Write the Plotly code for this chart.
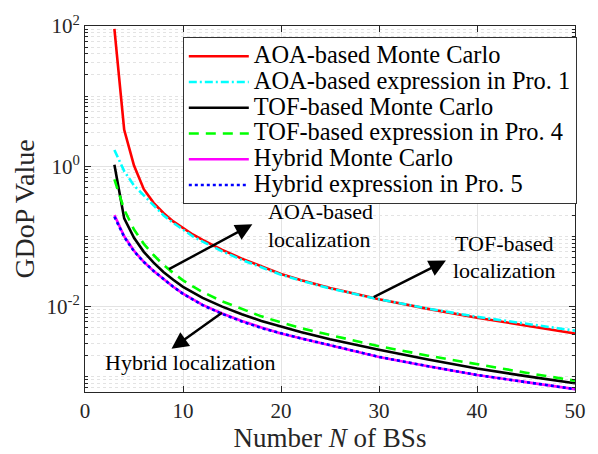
import numpy as np
import plotly.graph_objects as go

# Number of base stations
N = [3, 4, 5, 6, 7, 8, 9, 10, 11, 12, 14, 16, 18, 20, 22, 25, 30, 35, 40, 45, 50]

# GDoP values for each localization scheme
aoa_mc = [91, 3.3, 1.02, 0.47, 0.30, 0.215, 0.163, 0.130, 0.106, 0.089, 0.064,
          0.048, 0.037, 0.029, 0.0238, 0.0183, 0.0126, 0.0092, 0.0069, 0.0053, 0.0041]
aoa_expr = [1.7, 0.85, 0.53, 0.38, 0.27, 0.20, 0.155, 0.123, 0.100, 0.084, 0.061,
            0.046, 0.036, 0.0283, 0.0233, 0.0180, 0.0126, 0.0093, 0.0071, 0.0056, 0.0045]
tof_mc = [1.05, 0.18, 0.095, 0.060, 0.042, 0.031, 0.024, 0.019, 0.0158, 0.0132, 0.0099,
          0.0077, 0.0062, 0.0051, 0.0043, 0.0034, 0.0024, 0.00175, 0.0013, 0.00101, 0.0008]
tof_expr = [0.65, 0.24, 0.125, 0.078, 0.054, 0.039, 0.030, 0.0235, 0.0192, 0.016, 0.0118,
            0.0091, 0.0072, 0.0059, 0.0049, 0.0039, 0.0027, 0.00198, 0.00148, 0.00113, 0.00087]
hyb_mc = [0.20, 0.10, 0.062, 0.043, 0.032, 0.0245, 0.019, 0.0152, 0.0125, 0.0105, 0.0079,
          0.0062, 0.0050, 0.0041, 0.0035, 0.0028, 0.0019, 0.0014, 0.00105, 0.00083, 0.00066]
hyb_expr = [0.19, 0.098, 0.061, 0.043, 0.032, 0.0245, 0.019, 0.0151, 0.0124, 0.0104, 0.0078,
            0.0061, 0.0049, 0.0041, 0.0035, 0.0028, 0.0019, 0.0014, 0.00105, 0.00083, 0.00066]

series = [
    ("AOA-based Monte Carlo", aoa_mc, "#ff0000", "solid"),
    ("AOA-based expression in Pro. 1", aoa_expr, "#00ffff", "8px,3px,2px,3px"),
    ("TOF-based Monte Carlo", tof_mc, "#000000", "solid"),
    ("TOF-based expression in Pro. 4", tof_expr, "#00ff00", "10px,7px"),
    ("Hybrid Monte Carlo", hyb_mc, "#ff00ff", "solid"),
    ("Hybrid expression in Pro. 5", hyb_expr, "#0000ff", "3px,3px"),
]

FONT = "Liberation Serif, Times New Roman, serif"

fig = go.Figure()
for name, vals, color, dash in series:
    fig.add_trace(go.Scatter(
        x=N, y=vals, mode="lines",
        name='<span style="font-size:24.4px">' + name + "</span>",
        line=dict(color=color, width=2.6, dash=dash)))

# minor log ticks / dotted grid
minor_vals = []
for e in range(-4, 2):
    for k in range(1, 10):
        if k == 1 and e % 2 == 0:
            continue
        minor_vals.append(k * 10.0 ** e)

axis_common = dict(showline=True, linecolor="#262626", linewidth=1, mirror="allticks",
                   ticks="inside", ticklen=6, tickcolor="#262626",
                   showgrid=True, gridcolor="#e3e3e3", gridwidth=1, zeroline=False,
                   tickfont=dict(family=FONT, size=21, color="#262626"))

fig.update_xaxes(range=[0, 50], tickvals=[0, 10, 20, 30, 40, 50],
                 title=dict(text="Number <i>N</i> of BSs",
                            font=dict(family=FONT, size=27, color="#262626"), standoff=0),
                 **axis_common)
fig.update_yaxes(type="log", range=[np.log10(6e-4), 2],
                 tickvals=[1e-2, 1, 1e2],
                 ticktext=["10<sup>-2</sup>", "10<sup>0</sup>", "10<sup>2</sup>"],
                 minor=dict(tickmode="array", tickvals=minor_vals, ticks="inside", ticklen=3,
                            tickcolor="#262626", showgrid=True, gridcolor="#e3e3e3",
                            griddash="dot"),
                 title=dict(text="GDoP Value",
                            font=dict(family=FONT, size=28, color="#262626"), standoff=3),
                 **axis_common)

# arrows (data coordinates, log10 for y)
arrows = [
    (17.08, -0.83, 8.42, -1.48),
    (36.83, -1.347, 29.3, -1.879),
    (8.83, -2.606, 14.13, -2.075),
]
for hx, hy, tx, ty in arrows:
    fig.add_annotation(x=hx, y=hy, ax=tx, ay=ty, xref="x", yref="y", axref="x", ayref="y",
                       text="", showarrow=True, arrowhead=2, arrowsize=1.4,
                       arrowwidth=2.4, arrowcolor="#000000")

labels = [
    ("AOA-based", 24.0, -0.651),
    ("localization", 23.9, -1.04),
    ("TOF-based", 42.84, -1.096),
    ("localization", 42.84, -1.487),
    ("Hybrid localization", 10.74, -2.802),
]
for txt, x, y in labels:
    fig.add_annotation(x=x, y=y, xref="x", yref="y", text=txt, showarrow=False,
                       xanchor="center", yanchor="middle",
                       font=dict(family=FONT, size=22, color="#000000"))

fig.update_layout(
    width=598, height=454,
    margin=dict(l=85, r=22, t=23, b=58),
    paper_bgcolor="white", plot_bgcolor="white",
    font=dict(family=FONT, color="#000000"),
    legend=dict(x=0.1996, y=0.969, xanchor="left", yanchor="top",
                bgcolor="white", bordercolor="#333333", borderwidth=1,
                font=dict(family=FONT, size=17.5, color="#000000"),
                itemwidth=60, tracegroupgap=0),
)

fig.write_html("out.html")
